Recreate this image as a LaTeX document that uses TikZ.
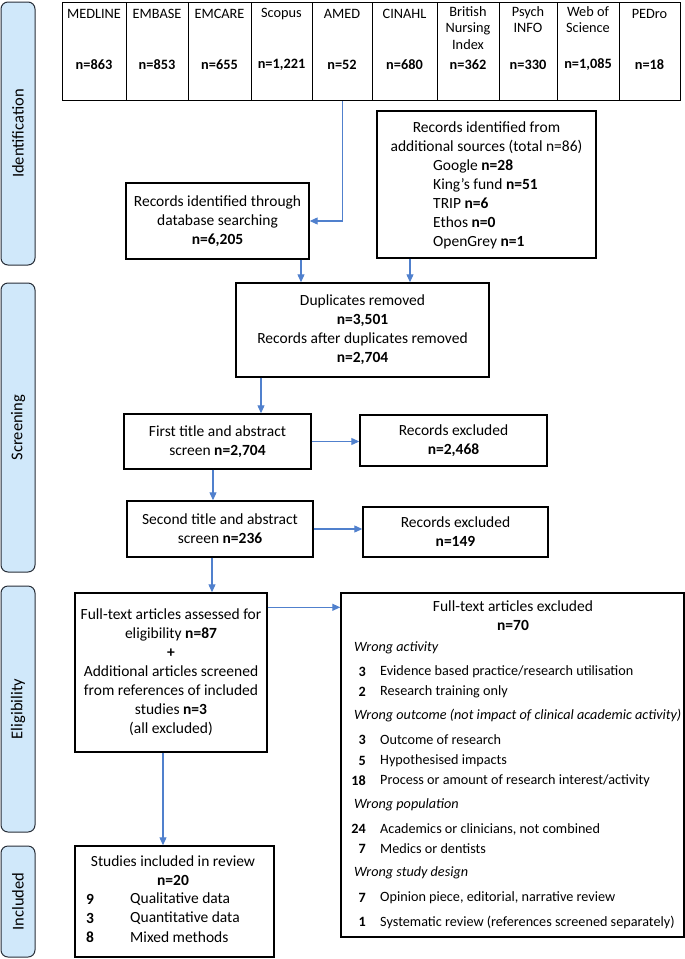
\documentclass[tikz,border=0pt]{standalone}
\usepackage{fontspec}
\setmainfont{Carlito}
\usetikzlibrary{arrows.meta,calc}
\definecolor{bandfill}{RGB}{208,232,250}
\definecolor{bandline}{RGB}{40,46,56}
\definecolor{arrowblue}{RGB}{80,128,205}
\newcommand\fs{\fontsize{15.5}{19}\selectfont}
\newcommand\xfs{\fontsize{14.2}{17}\selectfont}
\newcommand\dbfs{\fontsize{14.3}{16.5}\selectfont}
\newcommand\bandfs{\fontsize{16.5}{19}\selectfont}
\begin{document}
\begin{tikzpicture}[x=1pt,y=-1pt,
  box/.style={draw=black, line width=1.4pt, inner sep=0pt, align=center, font=\fs},
  band/.style={draw=bandline, fill=bandfill, rounded corners=7pt, line width=1pt, minimum width=34pt, inner sep=0pt},
  bandlbl/.style={rotate=90, font=\bandfs, text=black},
  arr/.style={draw=arrowblue, line width=1.1pt, -{Triangle[length=8pt,width=7pt]}},
  dbcol/.style={draw=black, line width=1.4pt, minimum height=98pt, anchor=north west, inner sep=0pt},
  dbtxt/.style={font=\dbfs, align=center, inner sep=0pt},
  txt/.style={font=\fs, inner sep=0pt},
  lt/.style={font=\fs, inner sep=0pt, anchor=west},
  xt/.style={font=\xfs, inner sep=0pt, anchor=west},
  num/.style={font=\xfs\bfseries, inner sep=0pt, anchor=east}
]
\useasboundingbox (0,0) rectangle (685,959);

% side bands
\node[band, minimum height=263pt] (b1) at (18,133.5) {};
\node[band, minimum height=289pt] (b2) at (18,427.5) {};
\node[band, minimum height=246pt] (b3) at (18,709) {};
\node[band, minimum height=111pt] (b4) at (18,901.5) {};
\node[bandlbl] (l1) at (b1) {Identification};
\node[bandlbl] (l2) at (b2) {Screening};
\node[bandlbl] (l3) at (b3) {Eligibility};
\node[bandlbl] (l4) at (b4) {Included};

% database row
\node[dbcol, minimum width=64pt] (d1) at (62,2) {};
\node[dbcol, minimum width=62pt] (d2) at (126,2) {};
\node[dbcol, minimum width=63pt] (d3) at (188,2) {};
\node[dbcol, minimum width=61pt] (d4) at (251,2) {};
\node[dbcol, minimum width=60pt] (d5) at (312,2) {};
\node[dbcol, minimum width=65pt] (d6) at (372,2) {};
\node[dbcol, minimum width=62pt] (d7) at (437,2) {};
\node[dbcol, minimum width=58pt] (d8) at (499,2) {};
\node[dbcol, minimum width=62pt] (d9) at (557,2) {};
\node[dbcol, minimum width=61pt] (d10) at (619,2) {};
\node[dbtxt] (t1) at (94,14) {MEDLINE};
\node[dbtxt] (t2) at (157,14) {EMBASE};
\node[dbtxt] (t3) at (219.5,14) {EMCARE};
\node[dbtxt] (t4) at (281.5,14) {Scopus};
\node[dbtxt] (t5) at (342,14) {AMED};
\node[dbtxt] (t6) at (404.5,14) {CINAHL};
\node[dbtxt, anchor=north] (t7) at (468,6) {British\\Nursing\\Index};
\node[dbtxt, anchor=north] (t8) at (528,6) {Psych\\INFO};
\node[dbtxt, anchor=north] (t9) at (588,6) {Web of\\Science};
\node[dbtxt] (t10) at (649.5,14) {PEDro};
\node[dbtxt] (n1) at (94,65) {\bfseries n=863};
\node[dbtxt] (n2) at (157,65) {\bfseries n=853};
\node[dbtxt] (n3) at (219.5,65) {\bfseries n=655};
\node[dbtxt] (n4) at (281.5,65) {\bfseries n=1,221};
\node[dbtxt] (n5) at (342,65) {\bfseries n=52};
\node[dbtxt] (n6) at (404.5,65) {\bfseries n=680};
\node[dbtxt] (n7) at (468,65) {\bfseries n=362};
\node[dbtxt] (n8) at (528,65) {\bfseries n=330};
\node[dbtxt] (n9) at (588,65) {\bfseries n=1,085};
\node[dbtxt] (n10) at (649.5,65) {\bfseries n=18};

% identification boxes
\node[box, minimum width=183pt, minimum height=76pt] (db) at (217.5,221)
  {Records identified through\\database searching\\\textbf{n=6,205}};
\node[box, minimum width=219pt, minimum height=147pt] (add) at (486.5,184.5) {};
\node[txt, align=center] (addt) at (486.5,138) {Records identified from\\additional sources (total n=86)};
\node[txt, align=left, anchor=west] (addl) at (433,204.5)
  {Google \textbf{n=28}\\King’s fund \textbf{n=51}\\TRIP \textbf{n=6}\\Ethos \textbf{n=0}\\OpenGrey \textbf{n=1}};

% screening boxes
\node[box, minimum width=253pt, minimum height=94pt] (dup) at (362.5,330)
  {Duplicates removed\\\textbf{n=3,501}\\Records after duplicates removed\\\textbf{n=2,704}};
\node[box, minimum width=187pt, minimum height=55pt] (first) at (217.5,441.5)
  {First title and abstract\\screen \textbf{n=2,704}};
\node[box, minimum width=187pt, minimum height=51pt] (ex1) at (453.5,440.5)
  {Records excluded\\\textbf{n=2,468}};
\node[box, minimum width=186pt, minimum height=56pt] (second) at (220,529)
  {Second title and abstract\\screen \textbf{n=236}};
\node[box, minimum width=185pt, minimum height=50pt] (ex2) at (455.5,532)
  {Records excluded\\\textbf{n=149}};

% eligibility
\node[box, minimum width=192pt, minimum height=159pt] (full) at (171,672.5)
  {Full-text articles assessed for\\eligibility \textbf{n=87}\\\textbf{+}\\Additional articles screened\\from references of included\\studies \textbf{n=3}\\(all excluded)};
\node[box, minimum width=343pt, minimum height=344pt] (exf) at (512.5,765) {};
\node[txt, align=center] (ext) at (513,615.5) {Full-text articles excluded\\\textbf{n=70}};
\node[xt] (w1) at (354,648) {\itshape Wrong activity};
\node[num] (a1) at (366,672) {3};
\node[xt] (a1t) at (380,672) {Evidence based practice/research utilisation};
\node[num] (a2) at (366,692) {2};
\node[xt] (a2t) at (380,692) {Research training only};
\node[xt] (w2) at (354,716) {\itshape Wrong outcome (not impact of clinical academic activity)};
\node[num] (b1n) at (366,740) {3};
\node[xt] (b1t) at (380,740) {Outcome of research};
\node[num] (b2n) at (366,761) {5};
\node[xt] (b2t) at (380,761) {Hypothesised impacts};
\node[num] (b3n) at (366,781) {18};
\node[xt] (b3t) at (380,781) {Process or amount of research interest/activity};
\node[xt] (w3) at (354,805) {\itshape Wrong population};
\node[num] (c1n) at (366,829) {24};
\node[xt] (c1t) at (380,829) {Academics or clinicians, not combined};
\node[num] (c2n) at (366,849) {7};
\node[xt] (c2t) at (380,849) {Medics or dentists};
\node[xt] (w4) at (354,873) {\itshape Wrong study design};
\node[num] (e1n) at (366,898) {7};
\node[xt] (e1t) at (380,898) {Opinion piece, editorial, narrative review};
\node[num] (e2n) at (366,922) {1};
\node[xt] (e2t) at (380,922) {Systematic review (references screened separately)};

% included
\node[box, minimum width=199pt, minimum height=111pt] (inc) at (174.5,901.5) {};
\node[txt, align=center] (inct) at (173,870.5) {Studies included in review\\\textbf{n=20}};
\node[lt, font=\fs\bfseries] (i1) at (86,899) {9};
\node[lt] (i1t) at (130,899) {Qualitative data};
\node[lt, font=\fs\bfseries] (i2) at (86,918) {3};
\node[lt] (i2t) at (130,918) {Quantitative data};
\node[lt, font=\fs\bfseries] (i3) at (86,937) {8};
\node[lt] (i3t) at (130,937) {Mixed methods};

% connectors
\coordinate (k1) at ([xshift=83.5pt]db.south);
\coordinate (k2) at ([xshift=-76.5pt]add.south);
\coordinate (k3) at ([xshift=-101.5pt]dup.south);
\coordinate (k4) at ([xshift=-4.5pt]first.south);
\coordinate (k5) at ([xshift=-8pt]second.south);
\coordinate (k6) at ([yshift=-15pt]full.north east);
\coordinate (k7) at ([xshift=-8pt]full.south);
\draw[arr] (d5.south) |- (db.east);
\draw[arr] (k1) -- (k1 |- dup.north);
\draw[arr] (k2) -- (k2 |- dup.north);
\draw[arr] (k3) -- (k3 |- first.north);
\draw[arr] (first.east) -- (first.east -| ex1.west);
\draw[arr] (k4) -- (k4 |- second.north);
\draw[arr] (second.east) -- (second.east -| ex2.west);
\draw[arr] (k5) -- (k5 |- full.north);
\draw[arr] (k6) -- (k6 -| exf.west);
\draw[arr] (k7) -- (k7 |- inc.north);
\end{tikzpicture}
\end{document}
